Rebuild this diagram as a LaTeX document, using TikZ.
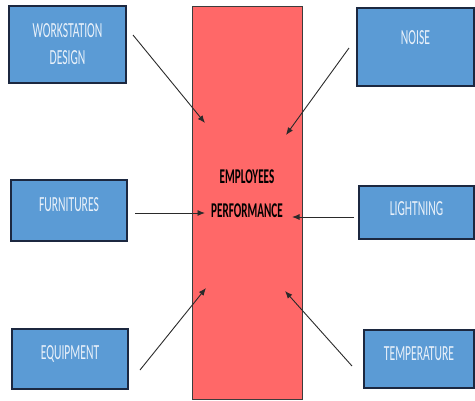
\documentclass[tikz,border=0pt]{standalone}
\usepackage{fontspec}
\setmainfont{Carlito}
\newfontfamily\boxfont[FakeStretch=0.54]{Carlito}
\newfontfamily\hubfont[FakeStretch=0.53]{Carlito}
\usetikzlibrary{arrows.meta}

\definecolor{boxblue}{HTML}{5B9BD5}
\definecolor{boxedge}{HTML}{1C2840}
\definecolor{boxtext}{HTML}{E9F1FA}
\definecolor{hubred}{HTML}{FF6868}
\definecolor{hubedge}{HTML}{3C3C3C}
\definecolor{arrowgray}{HTML}{2A2A2A}

\tikzset{
  factor/.style={draw=boxedge, line width=1.4pt, fill=boxblue,
    inner sep=0pt, outer sep=0pt},
  factortext/.style={text=boxtext, font=\boxfont\fontsize{21.5}{27}\selectfont,
    align=center, inner sep=0pt},
  hub/.style={draw=hubedge, line width=0.9pt, fill=hubred,
    inner sep=0pt, outer sep=0pt},
  hubtext/.style={text=black, font=\hubfont\bfseries\fontsize{21}{34.5}\selectfont,
    align=center, inner sep=0pt},
  conn/.style={draw=arrowgray, line width=0.9pt,
    -{Latex[length=7.5pt,width=6pt]}}
}

\begin{document}
\begin{tikzpicture}[x=1pt,y=-1pt]
  \useasboundingbox (0,0) rectangle (475,400);

  % central block
  \node[hub, minimum width=110pt, minimum height=393pt] (hubbox) at (247,202.5) {};
  \node[hubtext] (hublabel) at (247,193.5) {EMPLOYEES\\PERFORMANCE};

  % influencing factors
  \node[factor, minimum width=117pt, minimum height=77pt] (ws) at (67.5,44.5) {};
  \node[factortext] (wslabel) at (67.5,44.5) {WORKSTATION\\DESIGN};

  \node[factor, minimum width=117pt, minimum height=78pt] (noise) at (415.5,47) {};
  \node[factortext] (noiselabel) at (415.5,38) {NOISE};

  \node[factor, minimum width=116pt, minimum height=61pt] (furn) at (69,210.5) {};
  \node[factortext] (furnlabel) at (69,205) {FURNITURES};

  \node[factor, minimum width=115pt, minimum height=53pt] (light) at (416.5,212.5) {};
  \node[factortext] (lightlabel) at (416.5,209) {LIGHTNING};

  \node[factor, minimum width=116pt, minimum height=60pt] (equip) at (70,359) {};
  \node[factortext] (equiplabel) at (70,353.5) {EQUIPMENT};

  \node[factor, minimum width=110pt, minimum height=58pt] (temp) at (419,359) {};
  \node[factortext] (templabel) at (419,353.5) {TEMPERATURE};

  % connector end points
  \coordinate (ws-out) at (133,35);
  \coordinate (ws-in) at (205,123);
  \coordinate (noise-out) at (349,48);
  \coordinate (noise-in) at (286,135);
  \coordinate (furn-out) at (135,213);
  \coordinate (furn-in) at (205,213);
  \coordinate (light-out) at (354,217);
  \coordinate (light-in) at (292,217);
  \coordinate (equip-out) at (140,370);
  \coordinate (equip-in) at (206,288);
  \coordinate (temp-out) at (352,366);
  \coordinate (temp-in) at (285,291);

  \draw[conn] (ws-out) -- (ws-in);
  \draw[conn] (noise-out) -- (noise-in);
  \draw[conn] (furn-out) -- (furn-in);
  \draw[conn] (light-out) -- (light-in);
  \draw[conn] (equip-out) -- (equip-in);
  \draw[conn] (temp-out) -- (temp-in);
\end{tikzpicture}
\end{document}
